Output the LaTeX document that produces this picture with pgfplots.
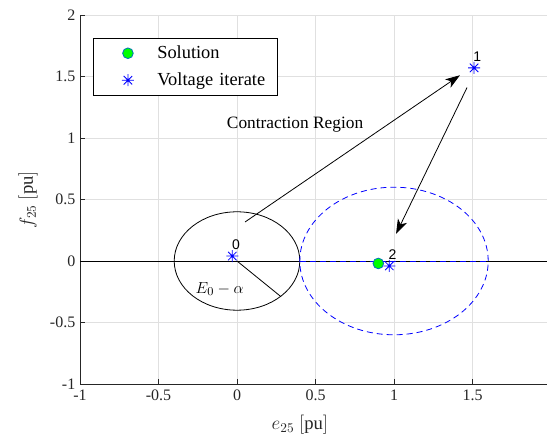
\documentclass[border=0pt]{standalone}
\usepackage{pgfplots}
\pgfplotsset{compat=1.18}
\usepackage{fontspec}
\setmainfont{Liberation Serif}
\newfontfamily\labelfont{Liberation Sans}
\usetikzlibrary{arrows.meta}

\definecolor{mblue}{RGB}{0,114,189}
\definecolor{axgray}{RGB}{38,38,38}

% 8-armed asterisk like the MATLAB '*' marker
\pgfdeclareplotmark{ast8}{%
  \pgfpathmoveto{\pgfqpoint{-\pgfplotmarksize}{0pt}}\pgfpathlineto{\pgfqpoint{\pgfplotmarksize}{0pt}}%
  \pgfpathmoveto{\pgfqpoint{0pt}{-\pgfplotmarksize}}\pgfpathlineto{\pgfqpoint{0pt}{\pgfplotmarksize}}%
  \pgfpathmoveto{\pgfqpoint{-0.707\pgfplotmarksize}{-0.707\pgfplotmarksize}}\pgfpathlineto{\pgfqpoint{0.707\pgfplotmarksize}{0.707\pgfplotmarksize}}%
  \pgfpathmoveto{\pgfqpoint{-0.707\pgfplotmarksize}{0.707\pgfplotmarksize}}\pgfpathlineto{\pgfqpoint{0.707\pgfplotmarksize}{-0.707\pgfplotmarksize}}%
  \pgfusepathqstroke}

\pgfplotsset{
  marklegend/.style={legend image code/.code={%
      \path[draw=none] (0pt,-6pt) rectangle (48pt,6pt);
      \draw[##1] plot coordinates {(26pt,0pt)};}},
}

\begin{document}
\begin{tikzpicture}
  \begin{axis}[
      scale only axis,
      width=353.25pt, height=276.75pt,
      xmin=-1, xmax=2, ymin=-1, ymax=2,
      xtick={-1,-0.5,...,2}, ytick={-1,-0.5,...,2},
      axis lines=left,
      axis line style={-, axgray, line width=0.5pt},
      tick align=inside,
      major tick length=3.75pt,
      tick style={axgray, line width=0.5pt},
      grid=major,
      major grid style={black!12, line width=0.5pt},
      /pgf/number format/assume math mode=true,
      ticklabel style={font=\fontsize{12}{14}\selectfont, text=axgray},
      xticklabel style={yshift=-1pt},
      xlabel={$e_{25}\ [\mathrm{pu}]$},
      ylabel={$f_{25}\ [\mathrm{pu}]$},
      xlabel style={at={(axis description cs:0.467,-0.111)}, anchor=center, font=\fontsize{14}{16}\selectfont, text=axgray},
      ylabel style={at={(axis description cs:-0.110,0.5)}, anchor=center, font=\fontsize{14}{16}\selectfont, text=axgray},
      legend style={at={(0.0276,0.9377)}, anchor=north west, draw=none, fill=none,
        inner xsep=0pt, inner ysep=5.25pt, row sep=8.25pt,
        font=\fontsize{13.8}{16}\selectfont,
        nodes={inner sep=0pt, text width=90pt, align=left}},
      legend cell align=left,
      clip=false,
    ]
    % legend frame
    \draw[black, line width=0.5pt, fill=white] (rel axis cs:0.0276,0.9377) rectangle ++(138pt,-42.75pt);
    % real axis
    \addplot[black, line width=0.6pt, forget plot] coordinates {(-1,0) (2,0)};
    \addplot[blue, dash pattern=on 4.5pt off 3pt, line width=0.6pt, forget plot] coordinates {(0.4,0) (1.6,0)};
    % contraction regions
    \draw[black, line width=0.6pt] (axis cs:0,0) ellipse [x radius=0.4, y radius=0.4];
    \draw[blue, dash pattern=on 4.5pt off 3pt, line width=0.6pt] (axis cs:1,0) ellipse [x radius=0.6, y radius=0.6];
    % radius
    \addplot[black, line width=0.6pt, forget plot] coordinates {(0,0) (0.28,-0.29)};
    \node[font=\fontsize{13}{15}\selectfont] at (axis cs:-0.11,-0.23) {$E_0-\alpha$};
    % arrows
    \draw[black, line width=0.6pt, -{Stealth[length=11pt, width=7.5pt, inset=3pt]}] (axis cs:0.051,0.317) -- (axis cs:1.42,1.51);
    \draw[black, line width=0.6pt, -{Stealth[length=11pt, width=7.5pt, inset=3pt]}] (axis cs:1.465,1.41) -- (axis cs:1.013,0.22);
    \node[font=\fontsize{13}{15}\selectfont] at (axis cs:0.37,1.106) {Contraction Region};
    % solution and iterates
    \addplot[only marks, mark=*, mark size=4pt, mark options={fill=green, draw=mblue, line width=0.6pt}, marklegend]
      coordinates {(0.90,-0.02)};
    \addlegendentry{Solution}
    \addplot[only marks, mark=ast8, mark size=4.5pt, mark options={draw=blue, line width=0.6pt}, marklegend]
      coordinates {(-0.03,0.04) (1.51,1.57) (0.97,-0.04)};
    \addlegendentry{Voltage iterate}
    \node[font=\labelfont\fontsize{10.5}{12}\selectfont] at (axis cs:-0.006,0.13) {0};
    \node[font=\labelfont\fontsize{10.5}{12}\selectfont] at (axis cs:1.53,1.66) {1};
    \node[font=\labelfont\fontsize{10.5}{12}\selectfont] at (axis cs:0.99,0.05) {2};
    \coordinate (bl) at (rel axis cs:0,0);
    \coordinate (tr) at (rel axis cs:1,1);
  \end{axis}
  \pgfresetboundingbox
  \useasboundingbox ([xshift=-60pt,yshift=-39pt]bl) rectangle ([xshift=-3pt,yshift=11.25pt]tr);
\end{tikzpicture}
\end{document}
